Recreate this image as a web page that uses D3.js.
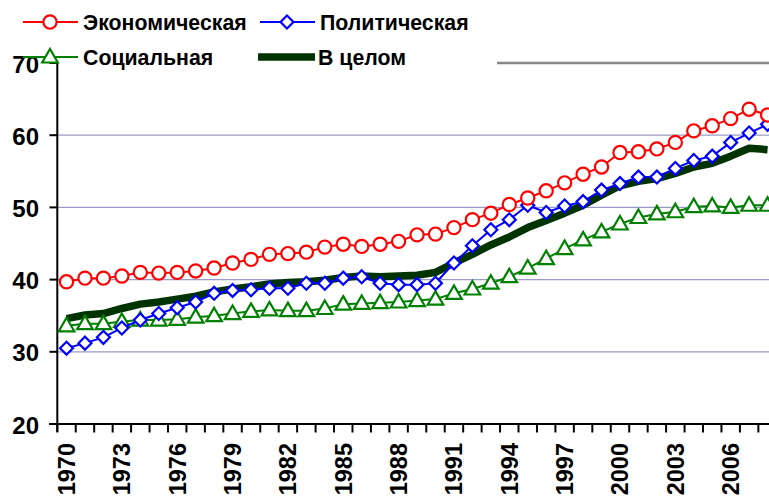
<!DOCTYPE html>
<html><head><meta charset="utf-8">
<script src="https://cdn.jsdelivr.net/npm/d3@7"></script>
<style>body{margin:0;background:#fff}svg{display:block}</style>
</head><body>
<svg id="c" width="769" height="496"></svg>
<script>
const years = d3.range(1970, 2009);
const tickLabels = [1970,1973,1976,1979,1982,1985,1988,1991,1994,1997,2000,2003,2006];
const yTicks = [20,30,40,50,60,70];
const economic = [39.7,40.2,40.2,40.5,41.0,40.9,41.0,41.2,41.6,42.3,42.8,43.5,43.6,43.8,44.5,44.9,44.6,44.9,45.3,46.2,46.3,47.2,48.3,49.2,50.4,51.3,52.3,53.4,54.6,55.6,57.6,57.7,58.1,59.0,60.6,61.3,62.3,63.6,62.8];
const political = [30.5,31.2,32.0,33.3,34.4,35.3,36.1,36.9,38.1,38.5,38.6,38.8,38.8,39.5,39.5,40.2,40.4,39.5,39.3,39.3,39.5,42.3,44.7,46.9,48.3,50.3,49.3,50.2,50.8,52.4,53.3,54.2,54.2,55.4,56.5,57.1,59.0,60.3,61.5];
const social = [33.6,33.9,33.9,34.2,34.4,34.4,34.5,34.8,35.0,35.3,35.6,35.8,35.7,35.7,36.0,36.6,36.7,36.8,36.9,37.1,37.3,38.1,38.7,39.5,40.4,41.6,42.9,44.3,45.5,46.6,47.7,48.6,49.1,49.4,50.1,50.2,50.0,50.3,50.3];
const overall = [34.6,35.1,35.3,36.0,36.6,36.9,37.3,37.7,38.3,38.7,39.0,39.4,39.6,39.7,39.9,40.3,40.5,40.4,40.5,40.6,41.0,42.3,43.5,44.8,45.9,47.2,48.2,49.2,50.3,51.7,53.0,53.6,54.0,54.7,55.6,56.1,57.1,58.2,58.0];
const seriesNames = ["Экономическая","Политическая","Социальная","В целом"];

const svg = d3.select("#c");
const x = d3.scaleBand().domain(years).range([57.3, 776.8]);
const y = d3.scaleLinear().domain([20,70]).range([424, 63]);
const cx = d => x(d) + x.bandwidth()/2;
const font = "'Liberation Sans', Arial, sans-serif";

// gridlines
svg.append("g").selectAll("line").data([30,40,50,60]).join("line")
  .attr("x1",57).attr("x2",769).attr("y1",d=>y(d)).attr("y2",d=>y(d))
  .attr("stroke","#9a9ac6").attr("stroke-width",1.2);
svg.append("line").attr("x1",497).attr("x2",769).attr("y1",y(70)).attr("y2",y(70))
  .attr("stroke","#888").attr("stroke-width",2.5);

// x axis
const xAxis = svg.append("g");
xAxis.append("line").attr("x1",49).attr("x2",769).attr("y1",424).attr("y2",424)
  .attr("stroke","#000").attr("stroke-width",2);
xAxis.selectAll("line.t").data(years).join("line").attr("class","t")
  .attr("x1",d=>x(d)).attr("x2",d=>x(d)).attr("y1",424).attr("y2",432.5)
  .attr("stroke","#000").attr("stroke-width",2);
xAxis.selectAll("text").data(tickLabels).join("text")
  .attr("transform",d=>`translate(${cx(d)+8.5},443) rotate(-90)`)
  .attr("text-anchor","end")
  .attr("font-family",font).attr("font-weight","bold").attr("font-size",23.5)
  .text(d=>d);

// y axis
const yAxis = svg.append("g");
yAxis.append("line").attr("x1",57.3).attr("x2",57.3).attr("y1",63).attr("y2",432)
  .attr("stroke","#000").attr("stroke-width",2);
yAxis.selectAll("line.t").data(yTicks).join("line").attr("class","t")
  .attr("x1",49.5).attr("x2",57.3).attr("y1",d=>y(d)).attr("y2",d=>y(d))
  .attr("stroke","#000").attr("stroke-width",2);
yAxis.selectAll("text").data(yTicks).join("text")
  .attr("x",39).attr("y",d=>y(d)+9.5).attr("text-anchor","end")
  .attr("font-family",font).attr("font-weight","bold").attr("font-size",24)
  .text(d=>d);

const line = d3.line().x((d,i)=>cx(years[i])).y(d=>y(d));
const plot = svg.append("g");

// overall thick line
plot.append("path").attr("d",line(overall)).attr("fill","none")
  .attr("stroke","#003300").attr("stroke-width",7.5).attr("stroke-linejoin","round");

const tri = d3.symbol().type(d3.symbolTriangle).size(105);
const dia = d3.symbol().type(d3.symbolSquare).size(84);

function series(data, color, marker){
  const g = plot.append("g");
  g.append("path").attr("d",line(data)).attr("fill","none").attr("stroke",color).attr("stroke-width",2);
  const m = g.selectAll("g").data(data).join("g")
    .attr("transform",(d,i)=>`translate(${cx(years[i])},${y(d)})`);
  drawMarker(m, color, marker);
}
function drawMarker(sel, color, marker){
  if(marker==="circle"){
    sel.append("circle").attr("r",6.6).attr("fill","#fff").attr("stroke",color).attr("stroke-width",2.2);
  } else if(marker==="diamond"){
    sel.append("path").attr("d",dia()).attr("transform","rotate(45)").attr("fill","#fff").attr("stroke",color).attr("stroke-width",2.2);
  } else if(marker==="triangle"){
    sel.append("path").attr("d",tri()).attr("transform","translate(0,1)").attr("fill","#fff").attr("stroke",color).attr("stroke-width",2.2);
  }
}
series(social, "#008000", "triangle");
series(political, "#0000ff", "diamond");
series(economic, "#ff0000", "circle");

// legend
const legend = svg.append("g");
const items = [
  {name:seriesNames[0], color:"#ff0000", marker:"circle", lx:23, ly:22},
  {name:seriesNames[1], color:"#0000ff", marker:"diamond", lx:260, ly:22},
  {name:seriesNames[2], color:"#008000", marker:"triangle", lx:23, ly:57},
  {name:seriesNames[3], color:"#003300", marker:"thick", lx:258, ly:57}
];
items.forEach(it=>{
  const g = legend.append("g").attr("transform",`translate(${it.lx},${it.ly})`);
  if(it.marker==="thick"){
    g.append("line").attr("x1",0).attr("x2",57).attr("y1",0).attr("y2",0).attr("stroke",it.color).attr("stroke-width",7.5);
  } else {
    g.append("line").attr("x1",0).attr("x2",55).attr("y1",0).attr("y2",0).attr("stroke",it.color).attr("stroke-width",2);
    const m = g.append("g").attr("transform","translate(27,0)");
    drawMarker(m, it.color, it.marker);
  }
  g.append("text").attr("x",60).attr("y",8)
    .attr("font-family",font).attr("font-weight","bold").attr("font-size",21.3)
    .text(it.name);
});
</script>
</body></html>
